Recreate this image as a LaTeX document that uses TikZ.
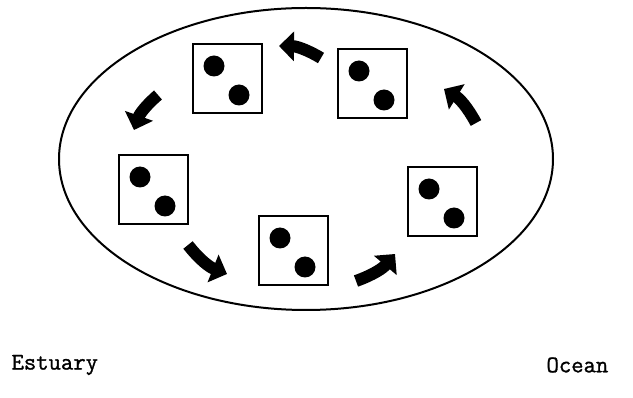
\documentclass[tikz,border=0pt]{standalone}
\usepackage{fontspec}
\newfontfamily\labelfont{Latin Modern Mono}[FakeBold=1.2]
\usetikzlibrary{arrows.meta}
\tikzset{
  parcel/.style={draw,line width=2pt,minimum size=69pt,inner sep=0pt},
  flow/.style={line width=12pt,-{Triangle[width=29pt,length=15pt]}},
  place/.style={font=\fontsize{24}{28}\selectfont\labelfont,anchor=west},
}
\begin{document}
\begin{tikzpicture}[x=1pt,y=-1pt]
\useasboundingbox (0,0) rectangle (633,398);
\draw[line width=2pt] (306,159) ellipse (247pt and 151pt);
% water parcels, each with two particles
\foreach \n/\x/\y in {p1/227/79,p2/372/84,p3/153/190,p4/293/251,p5/442/202} {
  \node[parcel] (\n) at (\x,\y) {};
  \fill ([shift={(-13,-13)}]\n.center) circle (10.5pt);
  \fill ([shift={(12,16)}]\n.center) circle (10.5pt);
}
% circulation
\foreach \tx/\ty/\hx/\hy in {321/58/279/46,158/95/134/130,188/245/227/274,356/281/395/254,476/123/444/89}
  \draw[flow] (\tx,\ty) to[bend right=15] (\hx,\hy);
\node[place] (estuary) at (8,365) {Estuary};
\node[place] (ocean) at (543,365) {Ocean};
\end{tikzpicture}
\end{document}
